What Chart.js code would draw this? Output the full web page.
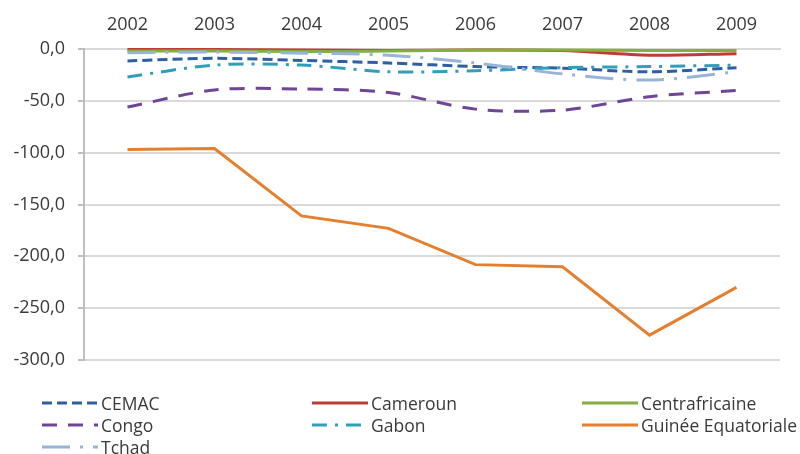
<!DOCTYPE html>
<html>
<head>
<meta charset="utf-8">
<script src="https://cdn.jsdelivr.net/npm/chart.js@4/dist/chart.umd.min.js"></script>
<style>
  html, body { margin: 0; padding: 0; background: #fff; }
  #wrap { position: relative; width: 800px; height: 454px; }
  #chart { position: absolute; left: 0; top: 0; }
  #legend {
    position: absolute; left: 42px; top: 392px;
    display: grid; grid-template-columns: 270px 270px 220px; grid-auto-rows: 22px;
    font-family: "Open Sans", sans-serif; font-size: 17.5px; color: #3a3a3a;
  }
  .item { display: flex; align-items: center; white-space: nowrap; }
  .item svg { flex: none; margin-right: 3px; }
</style>
</head>
<body>
<div id="wrap">
  <canvas id="chart" width="800" height="454"></canvas>
  <div id="legend"></div>
</div>
<script>
// Années
const years = ['2002', '2003', '2004', '2005', '2006', '2007', '2008', '2009'];

// Séries par pays
const cemac          = [-11.5, -9, -11, -13.5, -17, -18.5, -22, -18];
const cameroun       = [-0.5, -0.5, -1, -1.5, -1, -1.5, -6, -4.5];
const centrafricaine = [-2, -2, -2.5, -2, -1, -1, -1.5, -1.5];
const congo          = [-56, -39.5, -38.6, -42, -58, -59, -46, -40];
const gabon          = [-27, -15.5, -15.5, -22, -21, -18, -17, -15.5];
const guinee         = [-97, -96, -161, -173, -208, -210, -276, -230];
const tchad          = [-3.5, -3, -4, -6, -13.5, -24, -30, -22];

// Graduations de l'axe vertical
const yTicks = [0, -50, -100, -150, -200, -250, -300];

const series = [
  { label: 'CEMAC',              data: cemac,          color: '#2f5fa3', dash: [10, 5],          tension: 0.3 },
  { label: 'Cameroun',           data: cameroun,       color: '#be3b36', dash: [],               tension: 0.3 },
  { label: 'Centrafricaine',     data: centrafricaine, color: '#84ae3e', dash: [],               tension: 0.3 },
  { label: 'Congo',              data: congo,          color: '#6f4597', dash: [15, 11],         tension: 0.3 },
  { label: 'Gabon',              data: gabon,          color: '#2f9fbb', dash: [15, 8, 3, 8],    tension: 0.3 },
  { label: 'Guinée Equatoriale', data: guinee,         color: '#e47f2f', dash: [],               tension: 0 },
  { label: 'Tchad',              data: tchad,          color: '#98b4d9', dash: [28, 10, 3, 10],  tension: 0.3 }
];

const datasets = series.map(s => ({
  label: s.label,
  data: s.data,
  borderColor: s.color,
  backgroundColor: s.color,
  borderDash: s.dash,
  borderWidth: 3,
  tension: s.tension,
  pointRadius: 0,
  pointHoverRadius: 0,
  fill: false,
  clip: 8
}));

// Draw order: smaller series on top of Guinée
datasets.forEach((d, i) => { d.order = series.length - i; });

const fontSpec = { family: '"Open Sans", sans-serif', size: 18 };

new Chart(document.getElementById('chart'), {
  type: 'line',
  data: { labels: years, datasets },
  options: {
    responsive: false,
    animation: false,
    layout: { padding: { left: 0, right: 20, top: 0, bottom: 94 } },
    plugins: { legend: { display: false }, tooltip: { enabled: false } },
    scales: {
      x: {
        position: 'top',
        offset: true,
        grid: { display: false },
        border: { display: true, color: '#d9d9d9', width: 2 },
        ticks: { color: '#3a3a3a', font: fontSpec, padding: 5, maxRotation: 0 },
        afterFit: s => { s.height = 49; }
      },
      y: {
        min: -300,
        max: 0,
        afterBuildTicks: s => { s.ticks = yTicks.map(v => ({ value: v })); },
        grid: { color: '#d9d9d9', lineWidth: 2, tickLength: 6, tickColor: '#bfbfbf' },
        border: { display: true, color: '#bfbfbf', width: 2 },
        ticks: {
          color: '#3a3a3a', font: fontSpec, padding: 13,
          callback: v => v.toFixed(1).replace('.', ',')
        },
        afterFit: s => { s.width = 84; }
      }
    }
  }
});

// Légende en trois colonnes
const legend = document.getElementById('legend');
series.forEach(s => {
  const item = document.createElement('div');
  item.className = 'item';
  const svgNS = 'http://www.w3.org/2000/svg';
  const svg = document.createElementNS(svgNS, 'svg');
  svg.setAttribute('width', '56');
  svg.setAttribute('height', '10');
  const line = document.createElementNS(svgNS, 'line');
  line.setAttribute('x1', '0'); line.setAttribute('x2', '56');
  line.setAttribute('y1', '5'); line.setAttribute('y2', '5');
  line.setAttribute('stroke', s.color);
  line.setAttribute('stroke-width', '3');
  if (s.dash.length) line.setAttribute('stroke-dasharray', s.dash.join(' '));
  svg.appendChild(line);
  const txt = document.createElement('span');
  txt.textContent = s.label;
  item.appendChild(svg);
  item.appendChild(txt);
  legend.appendChild(item);
});
</script>
</body>
</html>
